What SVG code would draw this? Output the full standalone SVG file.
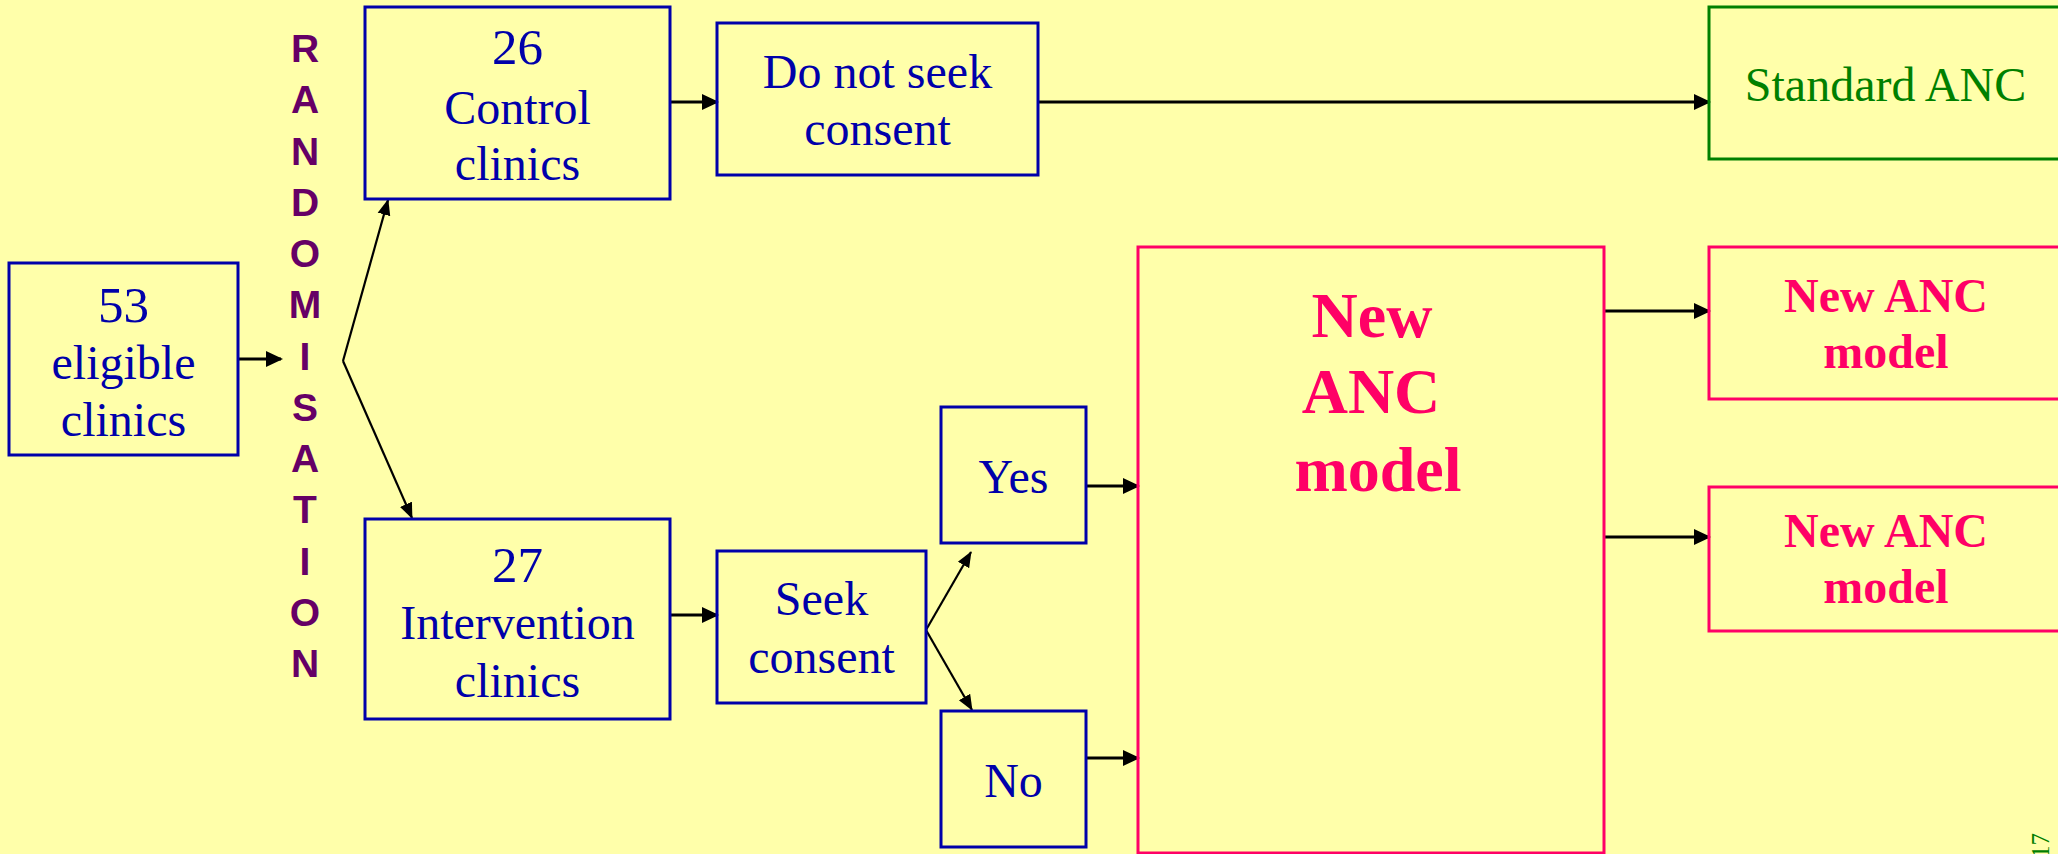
<svg xmlns="http://www.w3.org/2000/svg" width="2058" height="854" viewBox="0 0 2058 854">
  <style>
    .box { fill: none; stroke-width: 3; }
    .blue { stroke: #0000AA; }
    .green { stroke: #008000; }
    .pink { stroke: #FF0066; }
    .t { font-family: "Liberation Serif", "Times New Roman", serif; font-size: 48px; text-anchor: middle; }
    .tb { fill: #0000AA; }
    .num { font-size: 51px; }
    .tg { fill: #008000; }
    .tp { fill: #FF0066; font-weight: bold; }
    .big { font-size: 64px; }
    .rand { font-family: "Liberation Sans", Arial, sans-serif; font-size: 39px; font-weight: bold; fill: #660066; text-anchor: middle; }
    .edge { stroke: #000; stroke-width: 3; fill: none; }
    .edge2 { stroke: #000; stroke-width: 2.2; fill: none; }
  </style>
  <defs>
    <marker id="head" markerUnits="userSpaceOnUse" markerWidth="18" markerHeight="18" refX="15" refY="9" orient="auto">
      <path d="M0,1 L17,9 L0,17 z" fill="#000"/>
    </marker>
    <marker id="headThin" markerUnits="userSpaceOnUse" markerWidth="17" markerHeight="14" refX="15" refY="7" orient="auto">
      <path d="M0,0.5 L16,7 L0,13.5 z" fill="#000"/>
    </marker>
  </defs>

  <rect width="2058" height="854" fill="#FFFFAA"/>

  <!-- vertical randomisation label -->
  <g id="randomisation">
    <text class="rand" x="305" y="62">R</text>
    <text class="rand" x="305" y="113">A</text>
    <text class="rand" x="305" y="165">N</text>
    <text class="rand" x="305" y="216">D</text>
    <text class="rand" x="305" y="267">O</text>
    <text class="rand" x="305" y="318">M</text>
    <text class="rand" x="305" y="370">I</text>
    <text class="rand" x="305" y="421">S</text>
    <text class="rand" x="305" y="472">A</text>
    <text class="rand" x="305" y="523">T</text>
    <text class="rand" x="305" y="575">I</text>
    <text class="rand" x="305" y="626">O</text>
    <text class="rand" x="305" y="677">N</text>
  </g>

  <g id="connectors">
    <line class="edge" x1="238" y1="359" x2="281" y2="359" marker-end="url(#head)"/>
    <polyline class="edge2" points="343,361 388,200" marker-end="url(#headThin)"/>
    <polyline class="edge2" points="343,361 412,518" marker-end="url(#headThin)"/>
    <line class="edge" x1="670" y1="102" x2="717" y2="102" marker-end="url(#head)"/>
    <line class="edge" x1="1038" y1="102" x2="1709" y2="102" marker-end="url(#head)"/>
    <line class="edge" x1="670" y1="615" x2="717" y2="615" marker-end="url(#head)"/>
    <polyline class="edge2" points="926,630 971,552" marker-end="url(#headThin)"/>
    <polyline class="edge2" points="926,630 972,710" marker-end="url(#headThin)"/>
    <line class="edge" x1="1086" y1="486" x2="1138" y2="486" marker-end="url(#head)"/>
    <line class="edge" x1="1086" y1="758" x2="1138" y2="758" marker-end="url(#head)"/>
    <line class="edge" x1="1604" y1="311" x2="1709" y2="311" marker-end="url(#head)"/>
    <line class="edge" x1="1604" y1="537" x2="1709" y2="537" marker-end="url(#head)"/>
  </g>

  <g id="eligible">
    <rect class="box blue" x="9" y="263" width="229" height="192"/>
    <text class="t tb num" x="123.5" y="322">53</text>
    <text class="t tb" x="123.5" y="379">eligible</text>
    <text class="t tb" x="123.5" y="436">clinics</text>
  </g>

  <g id="control">
    <rect class="box blue" x="365" y="7" width="305" height="192"/>
    <text class="t tb num" x="517.5" y="64">26</text>
    <text class="t tb" x="517.5" y="124">Control</text>
    <text class="t tb" x="517.5" y="180">clinics</text>
  </g>

  <g id="intervention">
    <rect class="box blue" x="365" y="519" width="305" height="200"/>
    <text class="t tb num" x="517.5" y="582">27</text>
    <text class="t tb" x="517.5" y="639">Intervention</text>
    <text class="t tb" x="517.5" y="697">clinics</text>
  </g>

  <g id="no-consent">
    <rect class="box blue" x="717" y="23" width="321" height="152"/>
    <text class="t tb" x="877.5" y="88">Do not seek</text>
    <text class="t tb" x="877.5" y="145">consent</text>
  </g>

  <g id="seek-consent">
    <rect class="box blue" x="717" y="551" width="209" height="152"/>
    <text class="t tb" x="821.5" y="615">Seek</text>
    <text class="t tb" x="821.5" y="673">consent</text>
  </g>

  <g id="yes">
    <rect class="box blue" x="941" y="407" width="145" height="136"/>
    <text class="t tb" x="1013.5" y="493">Yes</text>
  </g>

  <g id="no">
    <rect class="box blue" x="941" y="711" width="145" height="136"/>
    <text class="t tb" x="1013.5" y="797">No</text>
  </g>

  <g id="new-model">
    <rect class="box pink" x="1138" y="247" width="466" height="606"/>
    <text class="t tp big" x="1372" y="337">New</text>
    <text class="t tp big" x="1371" y="413">ANC</text>
    <text class="t tp big" x="1378" y="491">model</text>
  </g>

  <g id="standard-anc">
    <rect class="box green" x="1709" y="7" width="355" height="152"/>
    <text class="t tg" x="1885.5" y="101">Standard ANC</text>
  </g>

  <g id="new-anc-1">
    <rect class="box pink" x="1709" y="247" width="355" height="152"/>
    <text class="t tp" x="1886" y="312">New ANC</text>
    <text class="t tp" x="1886" y="368">model</text>
  </g>

  <g id="new-anc-2">
    <rect class="box pink" x="1709" y="487" width="355" height="144"/>
    <text class="t tp" x="1886" y="547">New ANC</text>
    <text class="t tp" x="1886" y="603">model</text>
  </g>

  <!-- slide number -->
  <text transform="translate(2049,858) rotate(-90)" font-family="'Liberation Serif', serif" font-size="25" fill="#008000">17</text>
</svg>
